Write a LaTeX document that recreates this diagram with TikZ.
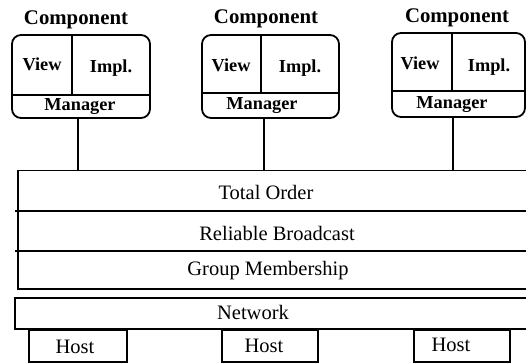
\documentclass[tikz,border=0pt]{standalone}
\usepackage{fontspec}
\setmainfont{Liberation Serif}
\begin{document}
\begin{tikzpicture}[x=1pt,y=-1pt,
  comp/.style={draw, line width=1.8pt, rounded corners=9pt, inner sep=0pt},
  part/.style={line width=1.8pt},
  title/.style={font=\fontsize{20.8}{24}\selectfont\bfseries, inner sep=0pt},
  inner/.style={font=\fontsize{18.3}{21}\selectfont\bfseries, inner sep=0pt},
  layer/.style={draw, line width=1.5pt, inner sep=0pt},
  ltext/.style={font=\fontsize{20.5}{23}\selectfont, inner sep=0pt},
  conn/.style={line width=1.2pt}]
\useasboundingbox (0,0) rectangle (526,363);
% Component 1
\node[title] (t1) at (76,20) {Component};
\draw[comp] (12,35) rectangle (150,118);
\node[inner sep=0pt, minimum width=138pt, minimum height=23pt, anchor=north west] (m1) at (12,95) {};
\draw[part] (72,35) -- (72,95);
\draw[part] (12,95) -- (150,95);
\node[inner] (v1) at (42,64) {View};
\node[inner] (i1) at (111,68) {Impl.};
\node[inner] (g1) at (80,107) {Manager};
% Component 2
\node[title] (t2) at (266,19) {Component};
\draw[comp] (202,35) rectangle (339,118);
\node[inner sep=0pt, minimum width=137pt, minimum height=25pt, anchor=north west] (m2) at (202,93) {};
\draw[part] (261,35) -- (261,93);
\draw[part] (202,93) -- (339,93);
\node[inner] (v2) at (231,65) {View};
\node[inner] (i2) at (300,68) {Impl.};
\node[inner] (g2) at (262,106) {Manager};
% Component 3
\node[title] (t3) at (457,18) {Component};
\draw[comp] (392,33) rectangle (525,117);
\node[inner sep=0pt, minimum width=133pt, minimum height=26pt, anchor=north west] (m3) at (392,91) {};
\draw[part] (452,33) -- (452,91);
\draw[part] (392,91) -- (525,91);
\node[inner] (v3) at (420,63) {View};
\node[inner] (i3) at (489,67) {Impl.};
\node[inner] (g3) at (452,105) {Manager};
% Layer stack
\node[layer, anchor=north west, minimum width=530pt, minimum height=118pt] (stack) at (17,170) {};
\draw[line width=1.5pt] (15,211) -- (547,211);
\draw[line width=1.5pt] (15,251) -- (547,251);
\node[ltext] (to) at (266,192) {Total Order};
\node[ltext] (rb) at (277,233) {Reliable Broadcast};
\node[ltext] (gm) at (268,271) {Group Membership};
% Connectors
\coordinate (k1) at (78,0);
\coordinate (k2) at (264,0);
\coordinate (k3) at (453,0);
\draw[conn] (m1.south -| k1) -- (stack.north -| k1);
\draw[conn] (m2.south -| k2) -- (stack.north -| k2);
\draw[conn] (m3.south -| k3) -- (stack.north -| k3);
% Network
\node[layer, anchor=north west, minimum width=533pt, minimum height=31pt] (net) at (14,297) {};
\node[ltext] (nt) at (253,312) {Network};
% Hosts
\node[layer, anchor=north west, minimum width=98pt, minimum height=32pt] (h1) at (28,329) {};
\node[layer, anchor=north west, minimum width=96pt, minimum height=32pt] (h2) at (221,329) {};
\node[layer, anchor=north west, minimum width=96pt, minimum height=32pt] (h3) at (413,329) {};
\node[ltext] at (75,347) {Host};
\node[ltext] at (264,346) {Host};
\node[ltext] at (451,345) {Host};
\end{tikzpicture}
\end{document}
